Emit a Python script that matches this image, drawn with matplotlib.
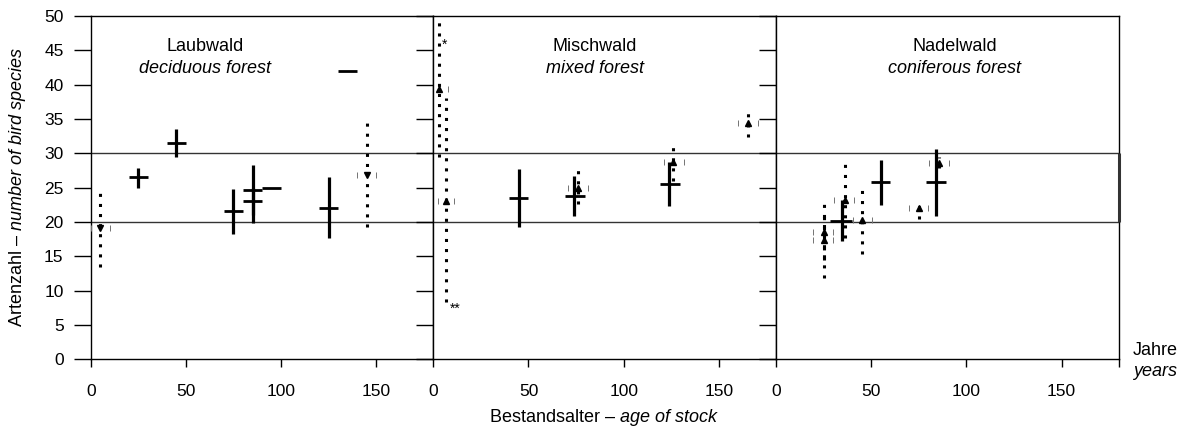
import matplotlib
matplotlib.use("Agg")
import matplotlib.pyplot as plt

plt.rcParams['font.family'] = ['Liberation Sans', 'DejaVu Sans']
plt.rcParams['mathtext.fontset'] = 'custom'
plt.rcParams['mathtext.rm'] = 'Liberation Sans'
plt.rcParams['mathtext.it'] = 'Liberation Sans:italic'

# columns: age, mean species, age from, age to, min species, max species
laub_solid = [
    (25, 26.5, 20, 30, 25.0, 27.8),
    (45, 31.5, 40, 50, 29.4, 33.5),
    (75, 21.6, 70, 80, 18.2, 24.8),
    (85, 24.6, 80, 90, 19.8, 28.3),
    (85, 23.0, 80, 90, 21.0, 25.0),
    (95, 24.9, 90, 100, 24.9, 24.9),
    (125, 22.0, 120, 130, 17.6, 26.5),
    (135, 42.0, 130, 140, 42.0, 42.0),
]
laub_dotted = [
    (5, 19.1, 0, 10, 13.5, 24.7),
    (145, 26.8, 140, 150, 19.3, 35.1),
]
misch_solid = [
    (45, 23.5, 40, 50, 19.3, 27.7),
    (74, 23.8, 69, 79.5, 20.9, 26.7),
    (124, 25.6, 119, 129.5, 22.3, 28.8),
]
misch_dotted = [
    (3, 39.4, -1, 7.5, 29.5, 55.0),
    (6.5, 23.0, 2.3, 10.7, 8.3, 38.0),
    (76, 25.0, 70.6, 81.1, 22.6, 28.3),
    (126, 28.7, 121, 131.5, 25.9, 31.7),
    (165.3, 34.4, 160, 170.5, 32.4, 36.3),
]
nadel_solid = [
    (34.5, 20.2, 28.5, 40, 17.3, 23.2),
    (55, 25.8, 50, 60, 22.5, 29.0),
    (84.1, 25.8, 79, 89.3, 20.9, 30.7),
]
nadel_dotted = [
    (25, 18.5, 19.6, 30, 11.8, 23.0),
    (25, 17.4, 19.6, 30, 14.5, 21.5),
    (36, 23.2, 30.6, 41.1, 17.7, 29.3),
    (45, 20.3, 40.4, 50.2, 15.4, 25.1),
    (75, 22.0, 70, 80, 20.5, 23.4),
    (85.8, 28.6, 80.6, 91.1, 27.8, 29.4),
]

titles_de = ["Laubwald", "Mischwald", "Nadelwald"]
titles_en = ["deciduous forest", "mixed forest", "coniferous forest"]
y_ticks = list(range(0, 51, 5))
x_ticks = [0, 50, 100, 150]
band = [20, 30]


def draw_solid(ax, rows):
    for x, y, x0, x1, y0, y1 in rows:
        ax.hlines(y, x0, x1, color='k', lw=2.0, zorder=3)
        if y1 > y0:
            ax.vlines(x, y0, y1, color='k', lw=2.3, zorder=3)


def draw_dotted(ax, rows, marker):
    for x, y, x0, x1, y0, y1 in rows:
        ax.vlines(x, y0, y1, color='k', lw=2.2, linestyles=[(0, (1, 2.3))], zorder=3)
        ax.plot([x0, x1], [y, y], ls='none', marker='|', ms=4, mew=0.7,
                color='0.45', zorder=3)
        ax.plot([x], [y], ls='none', marker=marker, ms=3.8, color='k', zorder=4)


fig = plt.figure(figsize=(11.91, 4.38), dpi=100)
lefts = [0.07616, 0.36381, 0.65155]
axes = [fig.add_axes([l, 0.1797, 0.28774, 0.7838]) for l in lefts]

data = [(laub_solid, laub_dotted, 'v'),
        (misch_solid, misch_dotted, '^'),
        (nadel_solid, nadel_dotted, '^')]
title_x = [60, 85, 94]

for i, ax in enumerate(axes):
    solid, dotted, mk = data[i]
    ax.set_xlim(0, 180)
    ax.set_ylim(0, 50)
    for v in band:
        ax.axhline(v, color='0.2', lw=1.0, zorder=1)
    draw_solid(ax, solid)
    draw_dotted(ax, dotted, mk)
    ax.text(title_x[i], 45.6, titles_de[i], ha='center', va='center', fontsize=13)
    ax.text(title_x[i], 42.3, titles_en[i], ha='center', va='center',
            fontsize=13, style='italic')
    ax.set_yticks(y_ticks)
    if i == 2:
        ax.set_xticks(x_ticks + [180], [str(t) for t in x_ticks] + [''])
    else:
        ax.set_xticks(x_ticks, [str(t) for t in x_ticks])
    ax.tick_params(axis='y', direction='out', length=12.5, width=1, pad=7,
                   labelsize=12.5, labelleft=(i == 0))
    ax.tick_params(axis='x', direction='out', length=6, width=1, pad=12,
                   labelsize=12.5)
    for s in ax.spines.values():
        s.set_linewidth(1.0)

axes[1].text(4.5, 45.8, "*", fontsize=10, ha='left', va='center')
axes[1].text(8.5, 7.4, "**", fontsize=10, ha='left', va='center')
axes[2].vlines(180, band[0], band[1], color='0.2', lw=2.2, clip_on=False, zorder=5)

fig.text(0.0151, 0.5717, r"Artenzahl – $\mathit{number\ of\ bird\ species}$",
         rotation=90, ha='center', va='center', fontsize=13)
fig.text(0.5071, 0.0457, r"Bestandsalter – $\mathit{age\ of\ stock}$",
         ha='center', va='center', fontsize=13)
fig.text(0.9513, 0.2009, "Jahre", ha='left', va='center', fontsize=13)
fig.text(0.9513, 0.1518, "years", ha='left', va='center', fontsize=13, style='italic')

fig.savefig("out.png", dpi=100)
